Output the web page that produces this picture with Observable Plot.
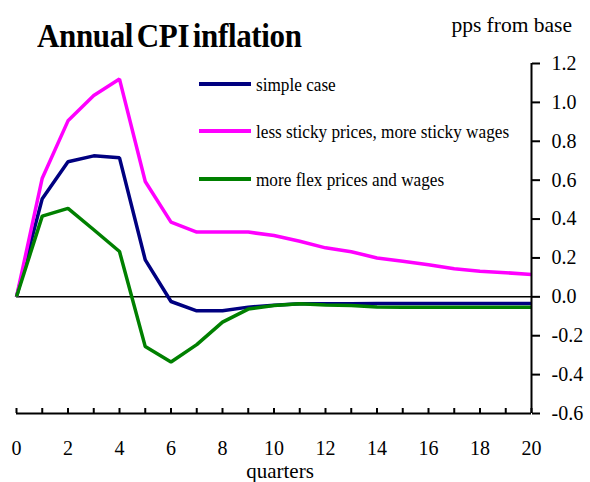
<!DOCTYPE html>
<html><head><meta charset="utf-8">
<script src="https://cdn.jsdelivr.net/npm/d3@7"></script>
<script src="https://cdn.jsdelivr.net/npm/@observablehq/plot@0.6"></script>
<style>
body{margin:0;background:#fff;}
#wrap{position:relative;width:590px;height:482px;font-family:"Liberation Serif","Times New Roman",serif;color:#000;}
.t{position:absolute;white-space:nowrap;line-height:1;}
.sw{position:absolute;height:4px;width:52px;}
</style></head><body><div id="wrap"></div><script>
const quarters = [0,1,2,3,4,5,6,7,8,9,10,11,12,13,14,15,16,17,18,19,20];
const xLabelTicks = [0,2,4,6,8,10,12,14,16,18,20];
const yTicks = [-0.6,-0.4,-0.2,0.0,0.2,0.4,0.6,0.8,1.0,1.2];
const xDomain = [0,20];
const yDomain = [-0.6,1.2];

const seriesNames = ["simple case","less sticky prices, more sticky wages","more flex prices and wages"];
const seriesColors = ["#000080","#ff00ff","#008000"];
const simpleCase = [0,0.505,0.695,0.725,0.715,0.19,-0.024,-0.072,-0.072,-0.053,-0.043,-0.036,-0.035,-0.035,-0.034,-0.034,-0.034,-0.034,-0.034,-0.034,-0.034];
const lessSticky = [0,0.61,0.905,1.035,1.12,0.593,0.384,0.333,0.333,0.333,0.315,0.286,0.252,0.232,0.2,0.183,0.165,0.144,0.132,0.124,0.115];
const moreFlex = [0,0.415,0.455,0.345,0.233,-0.256,-0.335,-0.246,-0.13,-0.063,-0.045,-0.035,-0.042,-0.045,-0.052,-0.053,-0.053,-0.053,-0.054,-0.054,-0.054];

const titleText = "Annual CPI inflation";
const unitText = "pps from base";
const xTitle = "quarters";

const allSeries = [simpleCase, lessSticky, moreFlex];
const rows = [];
allSeries.forEach((vals, si) => vals.forEach((v, i) => rows.push({q: quarters[i], v, s: seriesNames[si]})));

const chart = Plot.plot({
  width: 590, height: 482,
  marginLeft: 16, marginRight: 59, marginTop: 63, marginBottom: 69,
  style: {fontFamily: '"Liberation Serif","Times New Roman",serif', fontSize: "20px", color: "#000", background: "#fff", overflow: "visible"},
  x: {domain: xDomain},
  y: {domain: yDomain},
  color: {domain: seriesNames, range: seriesColors},
  marks: [
    Plot.ruleY([0], {stroke: "#000", strokeWidth: 1.5}),
    Plot.line(rows, {x: "q", y: "v", z: "s", stroke: "s", strokeWidth: 3.5, strokeLinejoin: "miter", strokeLinecap: "butt"}),
    Plot.ruleY([yDomain[0]], {stroke: "#000", strokeWidth: 2}),
    Plot.ruleX([xDomain[1]], {stroke: "#000", strokeWidth: 2}),
    Plot.axisY({anchor: "right", ticks: yTicks, tickSize: 8, tickPadding: 12, strokeWidth: 2, tickFormat: d => d.toFixed(1), label: null}),
    Plot.axisX({ticks: quarters, tickSize: -5, strokeWidth: 2, tickFormat: () => "", label: null}),
    Plot.axisX({ticks: xLabelTicks, tickSize: 0, tickPadding: 27, tickFormat: d => String(d), label: null})
  ]
});

const wrap = document.getElementById("wrap");
wrap.appendChild(chart);

function addText(txt, css) {
  const d = document.createElement("div");
  d.className = "t";
  d.textContent = txt;
  Object.assign(d.style, css);
  wrap.appendChild(d);
  return d;
}
addText(titleText, {left: "37px", top: "18.5px", fontSize: "34px", fontWeight: "bold", letterSpacing: "-0.4px", wordSpacing: "-4px", transform: "scaleX(0.912)", transformOrigin: "left center"});
addText(unitText, {right: "18px", top: "15px", fontSize: "21.5px"});
addText(xTitle, {left: "280px", top: "463.5px", fontSize: "21px", lineHeight: "0.7", transform: "translateX(-50%)"});

const legendY = [84, 131, 179];
seriesNames.forEach((name, i) => {
  const sw = document.createElement("div");
  sw.className = "sw";
  Object.assign(sw.style, {left: "199px", top: (legendY[i] - 2) + "px", background: seriesColors[i]});
  wrap.appendChild(sw);
  addText(name, {left: "256px", top: (legendY[i] + 6.5 - 15.9) + "px", fontSize: "19px", transform: "scaleX(0.905)", transformOrigin: "left center"});
});
</script></body></html>
